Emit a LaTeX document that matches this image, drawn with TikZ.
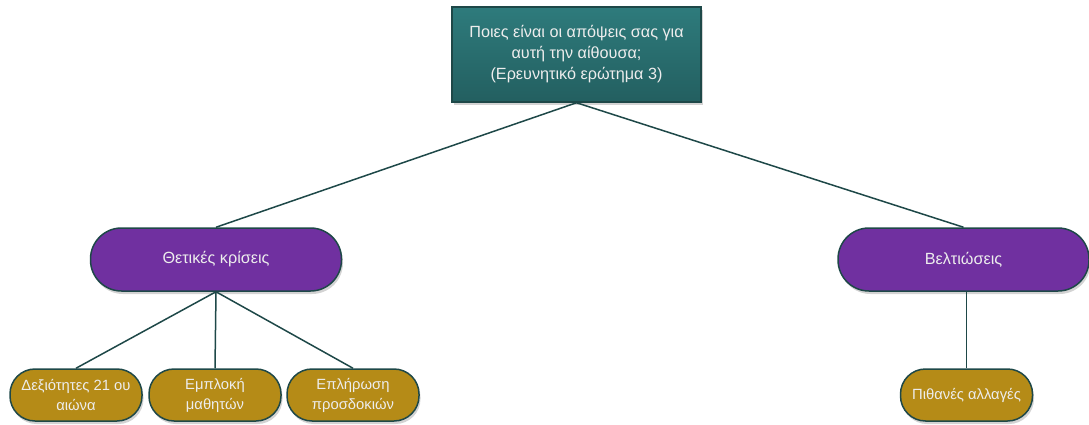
\documentclass[tikz,border=0pt]{standalone}
\usepackage{fontspec}
\setmainfont{Liberation Sans}
\usetikzlibrary{shadows}
\definecolor{tealbox}{HTML}{235F60}
\definecolor{tealtop}{HTML}{2E7B7C}
\definecolor{edgeline}{HTML}{1E4848}
\definecolor{purplebox}{HTML}{7030A0}
\definecolor{goldbox}{HTML}{B58B17}

\begin{document}
\begin{tikzpicture}[x=1pt,y=-1pt]
      \tikzstyle{every node}=[draw=edgeline,line width=1.5pt,text=white!93!black,
			      align=center,inner sep=0pt,
			      drop shadow={shadow xshift=1.5pt,shadow yshift=-3pt,opacity=0.35}]
      \tikzstyle{question}=[rectangle,top color=tealtop,bottom color=tealbox,
			    minimum width=249pt,minimum height=95pt,
			    font=\fontsize{16.2}{21}\selectfont]
      \tikzstyle{theme}=[rectangle,rounded corners=31pt,fill=purplebox,
			 minimum width=251pt,minimum height=63pt,
			 font=\fontsize{16.2}{19}\selectfont]
      \tikzstyle{subtheme}=[rectangle,rounded corners=25pt,fill=goldbox,
			    minimum width=132pt,minimum height=52pt,
			    font=\fontsize{14.8}{20}\selectfont]
      \useasboundingbox (0,0) rectangle (1089,425);
      \draw[edgeline,line width=1.5pt] (0,0) (576.5,54.5) node (question) [question]
	  {Ποιες είναι οι απόψεις σας για\\ αυτή την αίθουσα;\\ (Ερευνητικό ερώτημα 3)}
	  (216,259.5) node (positive) [theme] {Θετικές κρίσεις}
	  (963.5,259.5) node (improve) [theme] {Βελτιώσεις}
	  (76,395) node (skills) [subtheme] {Δεξιότητες 21 ου\\ αιώνα}
	  (215,395) node (engage) [subtheme] {Εμπλοκή\\ μαθητών}
	  (353,395) node (expect) [subtheme] {Επλήρωση\\ προσδοκιών}
	  (966.5,395) node (changes) [subtheme] {Πιθανές αλλαγές};
      \draw[edgeline,line width=1.5pt] (question.south) -- (positive.north);
      \draw[edgeline,line width=1.5pt] (question.south) -- (improve.north);
      \draw[edgeline,line width=1.5pt] (positive.south) -- (skills.north);
      \draw[edgeline,line width=1.5pt] (positive.south) -- (engage.north);
      \draw[edgeline,line width=1.5pt] (positive.south) -- (expect.north);
      \draw[edgeline,line width=1.5pt] (changes.north |- improve.south) -- (changes.north);
  \end{tikzpicture}
\end{document}
